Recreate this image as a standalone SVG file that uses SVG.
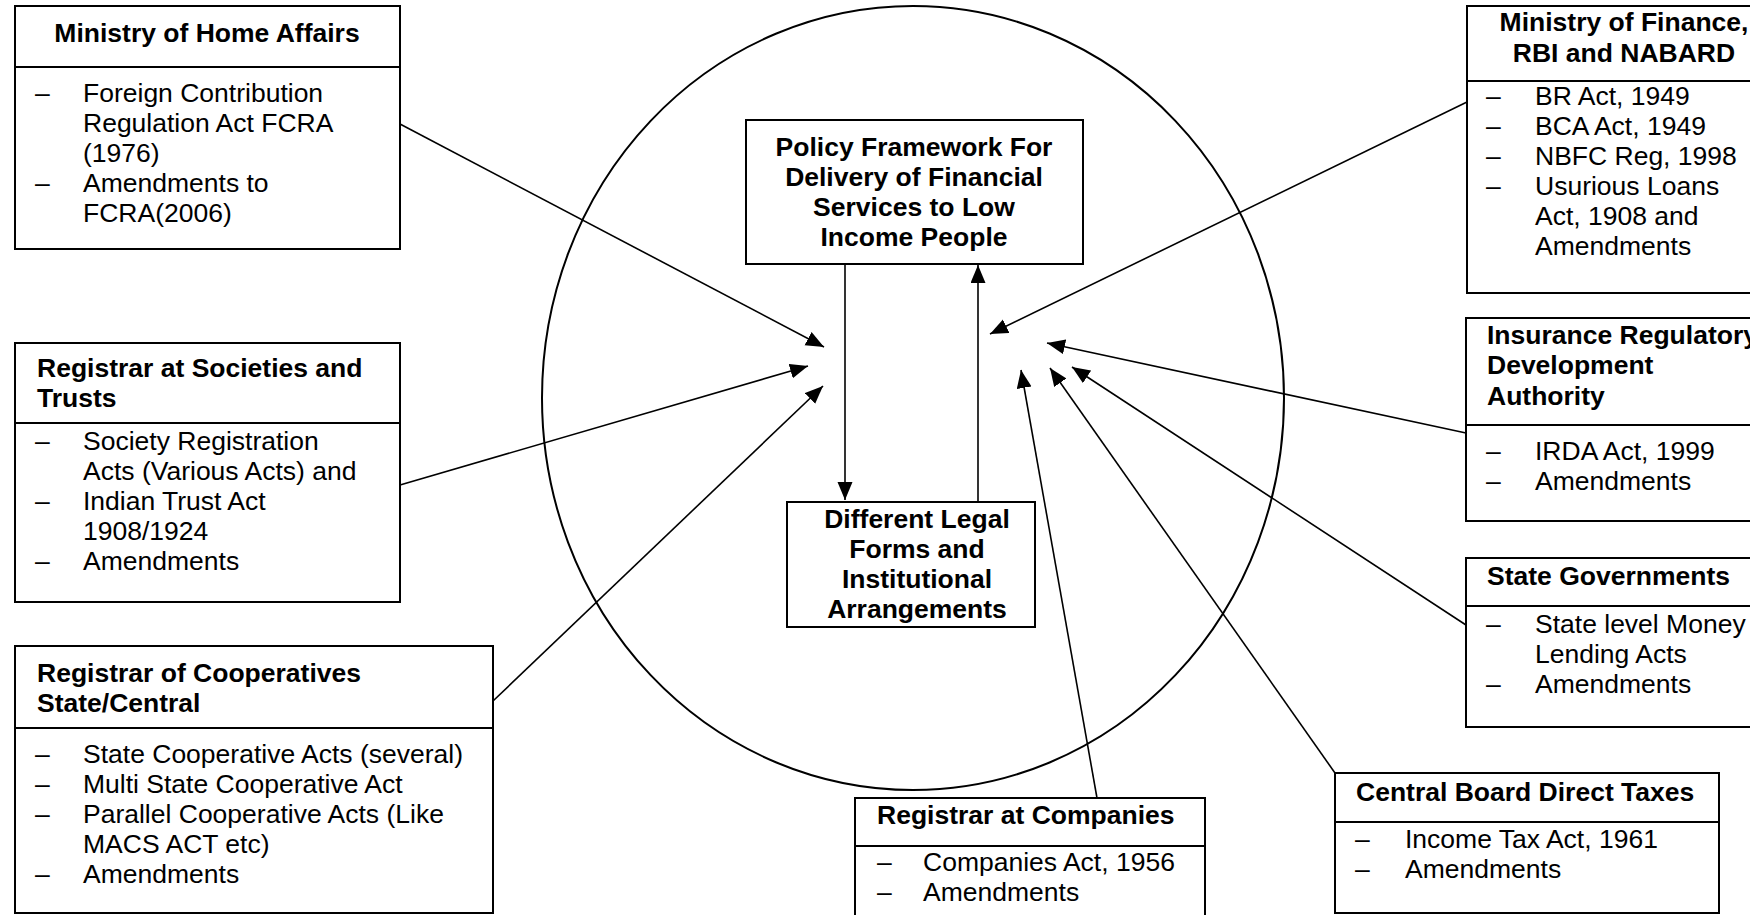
<svg xmlns="http://www.w3.org/2000/svg" width="1750" height="915" viewBox="0 0 1750 915">
<style>
text{font-family:"Liberation Sans",Arial,sans-serif;font-size:26.5px;fill:#000}
.b{font-weight:bold}
.c{text-anchor:middle}
.box{fill:#fff;stroke:#000;stroke-width:2}
.div{stroke:#000;stroke-width:2}
.con{stroke:#000;stroke-width:1.6;fill:none;marker-end:url(#ah)}
</style>
<defs>
<marker id="ah" markerUnits="userSpaceOnUse" markerWidth="19" markerHeight="16" refX="18" refY="7.5" orient="auto">
<path d="M0,0 L18,7.5 L0,15 z" fill="#000"/>
</marker>
</defs>
<rect width="1750" height="915" fill="#fff"/>
<ellipse id="circle" cx="913" cy="398" rx="371" ry="392" fill="none" stroke="#000" stroke-width="2"/>

<g id="connectors">
<line class="con" x1="400" y1="124" x2="824" y2="347"/>
<line class="con" x1="400" y1="485" x2="808" y2="366"/>
<line class="con" x1="493" y1="701" x2="823" y2="386"/>
<line class="con" x1="1467" y1="102" x2="990" y2="334"/>
<line class="con" x1="1466" y1="433" x2="1047" y2="343"/>
<line class="con" x1="1466" y1="625" x2="1072" y2="367"/>
<line class="con" x1="1335" y1="773" x2="1050" y2="368"/>
<line class="con" x1="1097" y1="798" x2="1021" y2="370"/>
<line class="con" x1="845" y1="264" x2="845" y2="500"/>
<line class="con" x1="978" y1="502" x2="978" y2="265"/>
</g>

<g id="policy">
<rect class="box" x="746" y="120" width="337" height="144"/>
<text class="b c" x="914" y="156">Policy Framework For</text>
<text class="b c" x="914" y="186">Delivery of Financial</text>
<text class="b c" x="914" y="216">Services to Low</text>
<text class="b c" x="914" y="246">Income People</text>
</g>

<g id="legal-forms">
<rect class="box" x="787" y="502" width="248" height="125"/>
<text class="b c" x="917" y="528">Different Legal</text>
<text class="b c" x="917" y="558">Forms and</text>
<text class="b c" x="917" y="588">Institutional</text>
<text class="b c" x="917" y="618">Arrangements</text>
</g>

<g id="home-affairs">
<rect class="box" x="15" y="6" width="385" height="243"/>
<line class="div" x1="15" y1="67" x2="400" y2="67"/>
<text class="b c" x="207" y="42">Ministry of Home Affairs</text>
<text x="35" y="102">–</text><text x="83" y="102">Foreign Contribution</text>
<text x="83" y="132">Regulation Act FCRA</text>
<text x="83" y="162">(1976)</text>
<text x="35" y="192">–</text><text x="83" y="192">Amendments to</text>
<text x="83" y="222">FCRA(2006)</text>
</g>

<g id="societies">
<rect class="box" x="15" y="343" width="385" height="259"/>
<line class="div" x1="15" y1="423" x2="400" y2="423"/>
<text class="b" x="37" y="377">Registrar at Societies and</text>
<text class="b" x="37" y="407">Trusts</text>
<text x="35" y="450">–</text><text x="83" y="450">Society Registration</text>
<text x="83" y="480">Acts (Various Acts) and</text>
<text x="35" y="510">–</text><text x="83" y="510">Indian Trust Act</text>
<text x="83" y="540">1908/1924</text>
<text x="35" y="570">–</text><text x="83" y="570">Amendments</text>
</g>

<g id="cooperatives">
<rect class="box" x="15" y="646" width="478" height="267"/>
<line class="div" x1="15" y1="728" x2="493" y2="728"/>
<text class="b" x="37" y="682">Registrar of Cooperatives</text>
<text class="b" x="37" y="712">State/Central</text>
<text x="35" y="763">–</text><text x="83" y="763">State Cooperative Acts (several)</text>
<text x="35" y="793">–</text><text x="83" y="793">Multi State Cooperative Act</text>
<text x="35" y="823">–</text><text x="83" y="823">Parallel Cooperative Acts (Like</text>
<text x="83" y="853">MACS ACT etc)</text>
<text x="35" y="883">–</text><text x="83" y="883">Amendments</text>
</g>

<g id="companies">
<rect class="box" x="855" y="798" width="350" height="140"/>
<line class="div" x1="855" y1="846" x2="1205" y2="846"/>
<text class="b" x="877" y="824">Registrar at Companies</text>
<text x="877" y="871">–</text><text x="923" y="871">Companies Act, 1956</text>
<text x="877" y="901">–</text><text x="923" y="901">Amendments</text>
</g>

<g id="cbdt">
<rect class="box" x="1335" y="773" width="384" height="140"/>
<line class="div" x1="1335" y1="822" x2="1719" y2="822"/>
<text class="b" x="1356" y="801">Central Board Direct Taxes</text>
<text x="1355" y="848">–</text><text x="1405" y="848">Income Tax Act, 1961</text>
<text x="1355" y="878">–</text><text x="1405" y="878">Amendments</text>
</g>

<g id="finance">
<rect class="box" x="1467" y="6" width="320" height="287"/>
<line class="div" x1="1467" y1="81" x2="1787" y2="81"/>
<text class="b c" x="1624" y="31">Ministry of Finance,</text>
<text class="b c" x="1624" y="62">RBI and NABARD</text>
<text x="1486" y="105">–</text><text x="1535" y="105">BR Act, 1949</text>
<text x="1486" y="135">–</text><text x="1535" y="135">BCA Act, 1949</text>
<text x="1486" y="165">–</text><text x="1535" y="165">NBFC Reg, 1998</text>
<text x="1486" y="195">–</text><text x="1535" y="195">Usurious Loans</text>
<text x="1535" y="225">Act, 1908 and</text>
<text x="1535" y="255">Amendments</text>
</g>

<g id="irda">
<rect class="box" x="1466" y="318" width="320" height="203"/>
<line class="div" x1="1466" y1="425" x2="1786" y2="425"/>
<text class="b" x="1487" y="344">Insurance Regulatory</text>
<text class="b" x="1487" y="374">Development</text>
<text class="b" x="1487" y="405">Authority</text>
<text x="1486" y="460">–</text><text x="1535" y="460">IRDA Act, 1999</text>
<text x="1486" y="490">–</text><text x="1535" y="490">Amendments</text>
</g>

<g id="state-governments">
<rect class="box" x="1466" y="558" width="320" height="169"/>
<line class="div" x1="1466" y1="606" x2="1786" y2="606"/>
<text class="b" x="1487" y="585">State Governments</text>
<text x="1486" y="633">–</text><text x="1535" y="633">State level Money</text>
<text x="1535" y="663">Lending Acts</text>
<text x="1486" y="693">–</text><text x="1535" y="693">Amendments</text>
</g>
</svg>
